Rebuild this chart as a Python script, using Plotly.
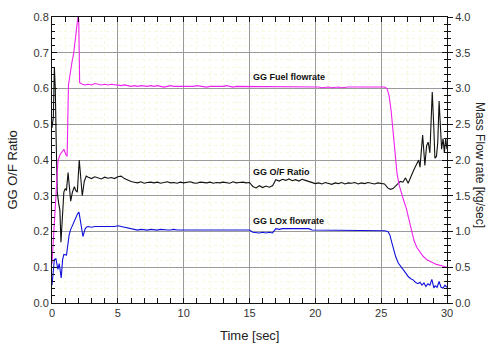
import plotly.graph_objects as go

# ---------------- data ----------------
# Fuel flowrate [kg/s] (right axis)
fuel_t_start = [0, 0.1, 0.2, 0.3, 0.45, 0.6, 0.75, 0.9, 1.05, 1.15, 1.25, 1.35, 1.5, 1.65,
                1.8, 1.9, 1.97, 2.03, 2.1, 2.3, 2.5]
fuel_v_start = [0.55, 0.90, 1.30, 1.65, 1.98, 2.07, 2.12, 2.15, 2.08, 2.05, 3.05, 3.20, 3.35,
                3.50, 3.70, 3.85, 4.00, 3.97, 3.08, 3.06, 3.05]

# common steady-phase time points [s]
t_steady = [2.75, 3.0, 3.25, 3.5, 3.75, 4.0, 4.25, 4.5, 4.75, 5.0,
            5.25, 5.5, 5.75, 6.0, 6.25, 6.5, 6.75, 7.0, 7.25, 7.5,
            7.75, 8.0, 8.25, 8.5, 8.75, 9.0, 9.25, 9.5, 9.75, 10.0,
            10.25, 10.5, 10.75, 11.0, 11.25, 11.5, 11.75, 12.0, 12.25, 12.5,
            12.75, 13.0, 13.25, 13.5, 13.75, 14.0, 14.25, 14.5, 14.75, 15.0,
            15.25, 15.5, 15.75, 16.0, 16.25, 16.5, 16.75, 17.0, 17.25, 17.5,
            17.75, 18.0, 18.25, 18.5, 18.75, 19.0, 19.25, 19.5, 19.75, 20.0,
            20.25, 20.5, 20.75, 21.0, 21.25, 21.5, 21.75, 22.0, 22.25, 22.5,
            22.75, 23.0, 23.25, 23.5, 23.75, 24.0, 24.25, 24.5, 24.75, 25.0]

fuel_v_steady = [3.06, 3.05, 3.07, 3.06, 3.05, 3.06, 3.05, 3.06, 3.05, 3.05,
                 3.04, 3.05, 3.04, 3.03, 3.04, 3.03, 3.04, 3.03, 3.03, 3.04,
                 3.03, 3.04, 3.03, 3.02, 3.03, 3.04, 3.03, 3.03, 3.02, 3.03,
                 3.03, 3.02, 3.03, 3.04, 3.03, 3.03, 3.02, 3.03, 3.03, 3.02,
                 3.03, 3.03, 3.04, 3.03, 3.02, 3.03, 3.03, 3.02, 3.03, 3.03,
                 3.02, 3.03, 3.02, 3.03, 3.03, 3.02, 3.03, 3.02, 3.02, 3.03,
                 3.02, 3.03, 3.02, 3.02, 3.03, 3.02, 3.02, 3.03, 3.02, 3.02,
                 3.02, 3.01, 3.02, 3.02, 3.01, 3.02, 3.02, 3.01, 3.02, 3.02,
                 3.02, 3.02, 3.01, 3.02, 3.02, 3.01, 3.02, 3.02, 3.02, 3.02]

fuel_t_end = [25.25, 25.45, 25.6, 25.75, 25.9, 26.05, 26.2, 26.35, 26.5, 26.7, 26.9, 27.05,
              27.2, 27.35, 27.5, 27.7, 27.9, 28.2, 28.5, 28.8, 29.2, 29.6, 30.0]
fuel_v_end = [3.02, 3.00, 2.90, 2.70, 2.40, 2.05, 1.82, 1.66, 1.55, 1.44, 1.33, 1.22,
              1.08, 0.96, 0.87, 0.78, 0.72, 0.65, 0.60, 0.57, 0.54, 0.52, 0.50]

# LOx flowrate [kg/s] (right axis)
lox_t_start = [0, 0.1, 0.18, 0.3, 0.45, 0.55, 0.7, 0.8, 0.9, 1.1, 1.2, 1.3, 1.4, 1.6, 1.8,
               1.95, 2.05, 2.2, 2.35, 2.5, 2.6]
lox_v_start = [0.25, 0.50, 0.61, 0.62, 0.47, 0.55, 0.35, 0.60, 0.68, 0.67, 0.85, 0.95, 1.02,
               1.10, 1.20, 1.25, 1.27, 1.10, 0.93, 1.03, 1.06]

lox_v_steady = [1.07, 1.06, 1.07, 1.07, 1.06, 1.07, 1.06, 1.07, 1.07, 1.08,
                1.07, 1.05, 1.04, 1.03, 1.03, 1.02, 1.03, 1.02, 1.02, 1.03,
                1.02, 1.02, 1.03, 1.02, 1.02, 1.02, 1.03, 1.02, 1.02, 1.02,
                1.02, 1.03, 1.02, 1.02, 1.02, 1.03, 1.02, 1.02, 1.03, 1.02,
                1.02, 1.02, 1.03, 1.02, 1.02, 1.02, 1.03, 1.02, 1.02, 1.02,
                0.99, 0.98, 0.98, 0.99, 0.98, 0.99, 0.98, 1.04, 1.03, 1.04,
                1.04, 1.03, 1.04, 1.04, 1.03, 1.04, 1.03, 1.04, 1.02, 1.02,
                1.02, 1.01, 1.02, 1.02, 1.01, 1.02, 1.02, 1.01, 1.02, 1.02,
                1.02, 1.01, 1.02, 1.02, 1.01, 1.02, 1.01, 1.02, 1.01, 1.01]

lox_t_end = [25.25, 25.5, 25.65, 25.8, 25.95, 26.1, 26.3, 26.5, 26.7, 26.9, 27.05, 27.25,
             27.45, 27.6, 27.8, 27.95, 28.1, 28.25, 28.4, 28.55, 28.7, 28.85, 29.0, 29.1,
             29.25, 29.4, 29.55, 29.7, 29.85, 30.0]
lox_v_end = [1.01, 1.00, 0.96, 0.85, 0.74, 0.65, 0.56, 0.50, 0.46, 0.41, 0.37, 0.34,
             0.32, 0.29, 0.27, 0.29, 0.25, 0.28, 0.23, 0.27, 0.25, 0.33, 0.21, 0.24,
             0.22, 0.30, 0.22, 0.21, 0.25, 0.22]

# GG O/F ratio [-] (left axis)
of_t_start = [0, 0.1, 0.18, 0.25, 0.32, 0.4, 0.5, 0.6, 0.68, 0.8, 0.9, 1.0, 1.1, 1.22,
              1.32, 1.42, 1.55, 1.7, 1.8, 1.92, 2.07, 2.2, 2.3, 2.45, 2.6]
of_v_start = [0.49, 0.52, 0.66, 0.60, 0.45, 0.31, 0.28, 0.26, 0.17, 0.27, 0.31, 0.32, 0.315,
              0.365, 0.32, 0.285, 0.31, 0.325, 0.315, 0.31, 0.40, 0.33, 0.30, 0.34, 0.355]

of_v_steady = [0.352, 0.348, 0.353, 0.350, 0.347, 0.352, 0.349, 0.351, 0.348, 0.353,
               0.355, 0.348, 0.343, 0.340, 0.338, 0.336, 0.339, 0.335, 0.337, 0.338,
               0.336, 0.338, 0.335, 0.337, 0.339, 0.336, 0.337, 0.335, 0.338, 0.336,
               0.337, 0.339, 0.336, 0.335, 0.338, 0.337, 0.336, 0.338, 0.335, 0.337,
               0.336, 0.338, 0.337, 0.335, 0.339, 0.336, 0.337, 0.338, 0.336, 0.337,
               0.326, 0.322, 0.328, 0.323, 0.327, 0.324, 0.328, 0.345, 0.341, 0.346,
               0.343, 0.347, 0.342, 0.345, 0.341, 0.346, 0.343, 0.340, 0.336, 0.334,
               0.336, 0.333, 0.337, 0.335, 0.332, 0.336, 0.334, 0.337, 0.333, 0.336,
               0.335, 0.337, 0.333, 0.336, 0.334, 0.337, 0.335, 0.333, 0.336, 0.334]

of_t_end = [25.25, 25.5, 25.7, 25.9, 26.05, 26.25, 26.45, 26.65, 26.85, 27.05, 27.25, 27.45,
            27.65, 27.85, 27.95, 28.07, 28.15, 28.25, 28.32, 28.45, 28.57, 28.7, 28.88, 29.0,
            29.08, 29.2, 29.3, 29.4, 29.5, 29.59, 29.7, 29.8, 29.9, 30.0]
of_v_end = [0.333, 0.322, 0.318, 0.320, 0.325, 0.333, 0.340, 0.338, 0.350, 0.335, 0.355, 0.370,
            0.385, 0.400, 0.380, 0.430, 0.470, 0.420, 0.385, 0.440, 0.450, 0.420, 0.590, 0.490,
            0.405, 0.410, 0.450, 0.565, 0.470, 0.430, 0.460, 0.420, 0.460, 0.430]

labels = ["GG Fuel flowrate", "GG O/F Ratio", "GG LOx flowrate"]
label_x = [15.1, 15.1, 15.1]
label_y = [0.631, 0.367, 0.230]

# ---------------- figure ----------------
FONT = "Liberation Sans, Arial, sans-serif"

fig = go.Figure()
fig.add_trace(go.Scatter(x=fuel_t_start + t_steady + fuel_t_end,
                         y=fuel_v_start + fuel_v_steady + fuel_v_end,
                         mode="lines", line=dict(color="#ee22ee", width=1.1),
                         yaxis="y2", name="fuel"))
fig.add_trace(go.Scatter(x=lox_t_start + t_steady + lox_t_end,
                         y=lox_v_start + lox_v_steady + lox_v_end,
                         mode="lines", line=dict(color="#1010dd", width=1.1),
                         yaxis="y2", name="lox"))
fig.add_trace(go.Scatter(x=of_t_start + t_steady + of_t_end,
                         y=of_v_start + of_v_steady + of_v_end,
                         mode="lines", line=dict(color="#111111", width=1.1),
                         yaxis="y", name="of"))

for txt, xx, yy in zip(labels, label_x, label_y):
    fig.add_annotation(x=xx, y=yy, xref="x", yref="y", text="<b>" + txt + "</b>",
                       showarrow=False, xanchor="left", yanchor="middle",
                       font=dict(family=FONT, size=9, color="#111111"))

fig.add_annotation(x=0.5, y=-0.113, xref="paper", yref="paper", text="Time [sec]",
                   showarrow=False, xanchor="center", yanchor="middle",
                   font=dict(family=FONT, size=13, color="#222222"))
fig.add_annotation(x=-0.099, y=0.466, xref="paper", yref="paper", text="GG O/F Ratio",
                   showarrow=False, textangle=-90, xanchor="center", yanchor="middle",
                   font=dict(family=FONT, size=13, color="#222222"))
fig.add_annotation(x=1.083, y=0.483, xref="paper", yref="paper", text="Mass Flow rate [kg/sec]",
                   showarrow=False, textangle=90, xanchor="center", yanchor="middle",
                   font=dict(family=FONT, size=12, color="#222222"))

tickfont = dict(family=FONT, size=11, color="#333333")
minor_grid = dict(showgrid=True, gridcolor="#f8f8de", griddash="dot", gridwidth=1)

fig.update_layout(
    width=488, height=346,
    margin=dict(l=52, r=41, t=11, b=43),
    paper_bgcolor="white", plot_bgcolor="white",
    showlegend=False, hovermode=False,
    xaxis=dict(range=[0, 30], dtick=5, tick0=0, showgrid=True, gridcolor="#9a9a9a",
               gridwidth=1, zeroline=False, showline=True, linecolor="#111111",
               linewidth=1, mirror="allticks", ticks="inside", ticklen=5,
               tickcolor="#111111", tickfont=tickfont,
               minor=dict(dtick=1, ticks="inside", ticklen=3, tickcolor="#111111",
                          **minor_grid)),
    yaxis=dict(range=[0, 0.8], dtick=0.1, tick0=0, tickformat=".1f", showgrid=True,
               gridcolor="#9a9a9a", gridwidth=1, zeroline=False, showline=True,
               linecolor="#111111", linewidth=1, mirror="allticks", ticks="inside",
               ticklen=5, tickcolor="#111111", tickfont=tickfont,
               minor=dict(dtick=0.02, ticks="inside", ticklen=3, tickcolor="#111111",
                          **minor_grid)),
    yaxis2=dict(range=[0, 4], dtick=0.5, tick0=0, tickformat=".1f", overlaying="y",
                side="right", showgrid=False, zeroline=False, showline=True,
                linecolor="#111111", linewidth=1, ticks="outside", ticklen=5,
                tickcolor="#111111", tickfont=tickfont,
                minor=dict(dtick=0.1, ticks="outside", ticklen=3, tickcolor="#111111")),
)

fig.write_html("out.html")
